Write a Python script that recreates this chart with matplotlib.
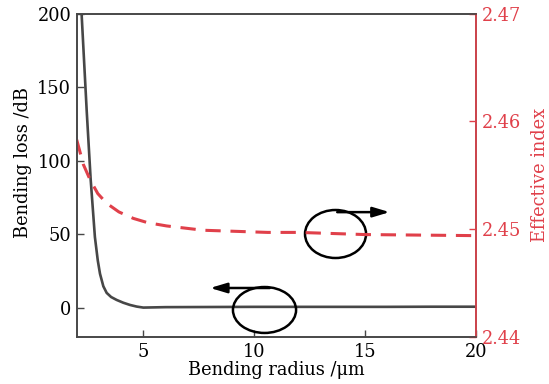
import matplotlib
matplotlib.use("Agg")
import matplotlib.pyplot as plt
from matplotlib.patches import Ellipse, FancyArrowPatch

# Data
radius_loss = [2.22, 2.45, 2.63, 2.82, 2.95, 3.05, 3.2, 3.35, 3.55, 3.8, 4.1, 4.4, 4.7, 5.0, 6.0, 8.0, 10.0, 12.0, 14.0, 16.0, 18.0, 20.0]
bending_loss = [200, 134, 87, 48, 32, 23, 14.5, 10, 7.2, 5.2, 3.3, 1.8, 0.7, 0.0, 0.3, 0.4, 0.5, 0.5, 0.5, 0.5, 0.6, 0.6]
radius_idx = [2.0, 2.3, 2.6, 2.95, 3.35, 3.9, 4.55, 5.2, 6.05, 7.7, 10.6, 12.0, 15.0, 20.0]
eff_index = [2.4583, 2.4560, 2.4546, 2.4533, 2.4524, 2.4516, 2.4510, 2.4506, 2.4503, 2.4499, 2.4497, 2.4497, 2.4495, 2.4494]
x_ticks = [5, 10, 15, 20]
loss_ticks = [0, 50, 100, 150, 200]
idx_ticks = [2.44, 2.45, 2.46, 2.47]

red = "#e0404a"
dark = "#474747"
plt.rcParams['font.family'] = ['DejaVu Serif']
plt.rcParams['font.size'] = 12.8

fig = plt.figure(figsize=(5.49, 3.84), dpi=100)
ax = fig.add_axes([0.1397, 0.1224, 0.7279, 0.8424])
ax2 = ax.twinx()

ax.plot(radius_loss, bending_loss, color=dark, lw=1.9, solid_capstyle='butt', zorder=3)
ax2.plot(radius_idx, eff_index, color=red, lw=2.2, ls=(0, (5, 3.2)))

ax.set_xlim(2, 20)
ax.set_ylim(-20, 200)
ax2.set_ylim(2.44, 2.47)
ax.set_xticks(x_ticks)
ax.set_yticks(loss_ticks)
ax2.set_yticks(idx_ticks)
ax2.set_yticklabels([f"{v:.2f}" for v in idx_ticks])

for a in (ax, ax2):
    for s in a.spines.values():
        s.set_color(dark)
        s.set_linewidth(1.2)
ax2.spines['right'].set_color(red)
ax.tick_params(direction='in', length=5, width=1.0, color=dark, labelcolor='black', pad=4)
ax2.tick_params(direction='in', length=5, width=1.0, color=red, labelcolor=red, pad=4)

ax.set_xlabel("Bending radius /μm", labelpad=0)
ax.set_ylabel("Bending loss /dB", labelpad=4)
ax.yaxis.label.set_y(0.54)
ax2.set_ylabel("Effective index", color=red, labelpad=7)

# annotations: ellipses with arrows
e1 = Ellipse((0.6477, 0.3184), 0.1527, 0.1484, transform=ax.transAxes, fill=False, lw=1.8, color='black', zorder=5)
e2 = Ellipse((0.470, 0.0835), 0.158, 0.142, transform=ax.transAxes, fill=False, lw=1.8, color='black', zorder=5)
ax.add_patch(e1)
ax.add_patch(e2)
a1 = FancyArrowPatch((0.645, 0.386), (0.79, 0.386), transform=ax.transAxes,
                     arrowstyle='-|>,head_length=10,head_width=3', lw=1.8, color='black', zorder=5)
a2 = FancyArrowPatch((0.49, 0.1515), (0.327, 0.1515), transform=ax.transAxes,
                     arrowstyle='-|>,head_length=10,head_width=3', lw=1.8, color='black', zorder=5)
ax.add_patch(a1)
ax.add_patch(a2)

fig.savefig("out.png", dpi=100)
